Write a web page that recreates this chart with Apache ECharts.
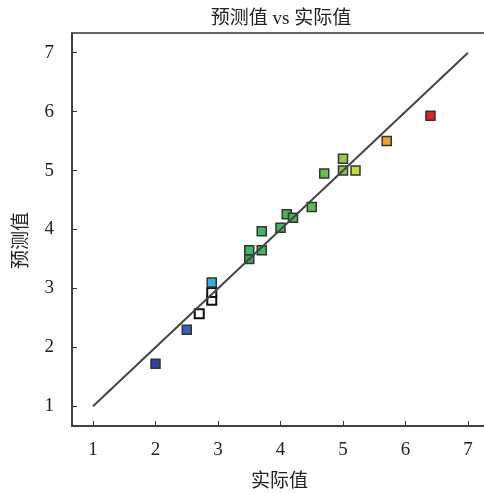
<!DOCTYPE html>
<html>
<head>
<meta charset="utf-8">
<script src="https://cdn.jsdelivr.net/npm/echarts@6/dist/echarts.min.js"></script>
<style>
html, body { margin: 0; padding: 0; background: #fff; }
#chart { width: 484px; height: 494px; }
</style>
</head>
<body>
<div id="chart"></div>
<script>
var actualVals = [2.0, 2.5, 2.7, 2.9, 2.9, 2.9, 3.5, 3.5, 3.7, 3.7, 4.0, 4.1, 4.2, 4.5, 4.7, 5.0, 5.0, 5.2, 5.7, 6.4];
var predictedVals = [1.72, 2.3, 2.57, 2.8, 2.93, 3.1, 3.5, 3.65, 3.65, 3.97, 4.03, 4.26, 4.2, 4.38, 4.95, 5.0, 5.2, 5.0, 5.5, 5.93];
var pointColors = ["#2a42a0", "#3560b8", "#ffffff", "#ffffff", "#ffffff", "#2fb2dc", "#36a85a", "#3cb862", "#3cb862", "#3cb85e",
                   "#40b855", "#42b852", "#42b852", "#5cbf4c", "#6cc044", "#8cc840", "#9ccb40", "#c8d83c", "#f0a030", "#e02222"];
var refLine = [[1, 1], [7, 7]];
var axisTicks = [1, 2, 3, 4, 5, 6, 7];

var fontFam = "'Liberation Serif', 'Noto Sans CJK SC', serif";

var points = actualVals.map(function (x, i) {
    var white = pointColors[i] === "#ffffff";
    return {
        value: [x, predictedVals[i]],
        itemStyle: { color: pointColors[i], borderColor: white ? "#111" : "#333", borderWidth: white ? 2 : 1.5 }
    };
});

var option = {
    animation: false,
    backgroundColor: "#fff",
    title: {
        text: "预测值 vs 实际值",
        left: 276,
        textAlign: "center",
        top: 5,
        textStyle: { fontFamily: fontFam, fontSize: 19, fontWeight: "normal", color: "#222" }
    },
    grid: {
        left: 72,
        top: 33,
        bottom: 68,
        right: -3,
        outerBoundsMode: "none",
        containLabel: false,
        show: true,
        borderColor: "#333",
        borderWidth: 1.5
    },
    xAxis: {
        type: "value",
        min: 1 - 21 / 62.45,
        max: 1 + (487 - 93.3) / 62.45,
        interval: 1,
        name: "实际值",
        nameLocation: "middle",
        nameGap: 47,
        nameTextStyle: { fontFamily: fontFam, fontSize: 19, color: "#222" },
        axisLine: { show: true, onZero: false, lineStyle: { color: "#333", width: 1.5 } },
        axisTick: { show: true, inside: true, length: 5, lineStyle: { color: "#333" },
            customValues: axisTicks },
        axisLabel: { fontFamily: fontFam, fontSize: 19, color: "#222", margin: 15,
            customValues: axisTicks },
        splitLine: { show: false }
    },
    yAxis: {
        type: "value",
        min: 1 - 19.7 / 58.9,
        max: 7 + 19.7 / 58.9,
        interval: 1,
        name: "预测值",
        nameLocation: "middle",
        nameGap: 40,
        nameTextStyle: { fontFamily: fontFam, fontSize: 19, color: "#222", padding: [0, 22, 0, 0] },
        axisLine: { show: true, onZero: false, lineStyle: { color: "#333", width: 1.5 } },
        axisTick: { show: true, inside: true, length: 5, lineStyle: { color: "#333" },
            customValues: axisTicks },
        axisLabel: { fontFamily: fontFam, fontSize: 19, color: "#222", margin: 18,
            customValues: axisTicks },
        splitLine: { show: false }
    },
    series: [
        {
            name: "样本",
            type: "scatter",
            symbol: "rect",
            symbolSize: 9,
            z: 2,
            itemStyle: { opacity: 1 },
            data: points
        },
        {
            name: "参考线",
            type: "line",
            z: 3,
            symbol: "none",
            lineStyle: { color: "#444", width: 2 },
            data: refLine
        }
    ]
};

var chart = echarts.init(document.getElementById("chart"));
chart.setOption(option);

window.addEventListener("resize", function () {
    chart.resize();
});
</script>
</body>
</html>
